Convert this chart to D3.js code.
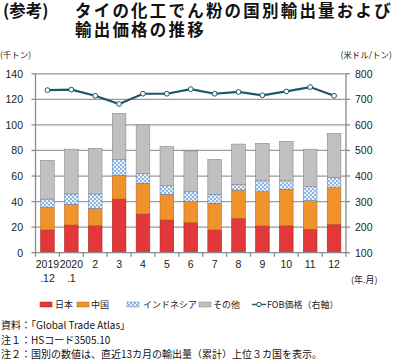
<!DOCTYPE html>
<html><head><meta charset="utf-8">
<script src="https://cdn.jsdelivr.net/npm/d3@7/dist/d3.min.js"></script>
<style>
body{margin:0;background:#fff;}
svg{display:block;font-family:"Liberation Sans","Noto Sans CJK JP",sans-serif;}
.jp{font-family:"Noto Sans CJK JP",sans-serif;}
</style></head>
<body><svg id="c" width="393" height="360"></svg>
<script>
const months = [["2019",".12"],["2020",".1"],["2"],["3"],["4"],["5"],["6"],["7"],["8"],["9"],["10"],["11"],["12"]];
const japan = [17.8, 21.7, 21.2, 42.0, 30.3, 25.6, 23.5, 17.8, 26.9, 20.9, 21.1, 18.3, 22.2];
const china = [17.7, 16.2, 13.5, 18.5, 24.0, 20.1, 16.5, 20.8, 22.1, 26.8, 28.5, 22.4, 28.7];
const indonesia = [6.5, 8.1, 11.3, 12.5, 7.7, 6.7, 7.7, 7.1, 4.5, 8.6, 6.7, 11.0, 8.1];
const others = [30.3, 35.0, 35.7, 36.0, 38.0, 30.6, 31.9, 27.3, 31.5, 29.3, 30.9, 29.3, 34.4];
const fobPrice = [736, 738, 714, 682, 722, 722, 740, 722, 729, 716, 731, 748, 714];
const leftTicks = [0, 20, 40, 60, 80, 100, 120, 140];
const rightTicks = [100, 200, 300, 400, 500, 600, 700, 800];
const seriesNames = ["日本", "中国", "インドネシア", "その他"];

const svg = d3.select("#c");
const L = 35.5, R = 346, T = 73.8, B = 252.7;
const x = d3.scaleBand().domain(d3.range(13)).range([L, R]).paddingInner(0.43).paddingOuter(0.215);
const y = d3.scaleLinear().domain([0, 140]).range([B, T]);
const y2 = d3.scaleLinear().domain([100, 800]).range([B, T]);

const defs = svg.append("defs");
const pat = defs.append("pattern").attr("id","hatch").attr("patternUnits","userSpaceOnUse").attr("width",4).attr("height",4);
pat.append("rect").attr("width",4).attr("height",4).attr("fill","#e9f1fa");
pat.append("rect").attr("x",0).attr("y",0).attr("width",2).attr("height",2).attr("fill","#8fb6e0");
pat.append("rect").attr("x",2).attr("y",2).attr("width",2).attr("height",2).attr("fill","#8fb6e0");

// gridlines
svg.append("g").selectAll("line").data(leftTicks.slice(1)).join("line")
  .attr("x1", L).attr("x2", R).attr("y1", d => y(d)).attr("y2", d => y(d))
  .attr("stroke", "#9a9a9a").attr("stroke-width", 1.2);

// stacked bars
const keys = ["japan","china","indonesia","others"];
const rows = d3.range(13).map(i => ({i, japan: japan[i], china: china[i], indonesia: indonesia[i], others: others[i]}));
const stack = d3.stack().keys(keys)(rows);
const fills = {japan:"#e2383a", china:"#f0932c", indonesia:"url(#hatch)", others:"#c0c0c0"};
const strokes = {japan:"#b02020", china:"#b8681a", indonesia:"#5f86b8", others:"#8a8a8a"};
stack.forEach(s => {
  svg.append("g").selectAll("rect").data(s).join("rect")
    .attr("x", d => x(d.data.i)).attr("width", x.bandwidth())
    .attr("y", d => y(d[1])).attr("height", d => y(d[0]) - y(d[1]))
    .attr("fill", fills[s.key]).attr("stroke", strokes[s.key]).attr("stroke-width", 0.6);
});

// axes
const ax = svg.append("g").attr("stroke", "#8a8a8a").attr("stroke-width", 1.3);
ax.append("line").attr("x1", L).attr("x2", L).attr("y1", T).attr("y2", B);
ax.append("line").attr("x1", R).attr("x2", R).attr("y1", T).attr("y2", B);
ax.append("line").attr("x1", L).attr("x2", R).attr("y1", B).attr("y2", B);
ax.selectAll(".lt").data(leftTicks).join("line").attr("x1", L - 4).attr("x2", L).attr("y1", d => y(d)).attr("y2", d => y(d));
ax.selectAll(".rt").data(rightTicks).join("line").attr("x1", R).attr("x2", R + 4).attr("y1", d => y2(d)).attr("y2", d => y2(d));
ax.selectAll(".bt").data(d3.range(14)).join("line")
  .attr("x1", d => L + d * x.step()).attr("x2", d => L + d * x.step()).attr("y1", B).attr("y2", B + 4);

svg.append("g").selectAll("text").data(leftTicks).join("text")
  .attr("x", 23).attr("y", d => y(d) + 4).attr("text-anchor", "end")
  .attr("font-size", 10.5).attr("fill", "#222").text(d => d);
svg.append("g").selectAll("text").data(rightTicks).join("text")
  .attr("x", 355).attr("y", d => y2(d) + 4).attr("text-anchor", "start")
  .attr("font-size", 10.5).attr("fill", "#222").text(d => d);

// x labels
const xl = svg.append("g").selectAll("text").data(months).join("text")
  .attr("x", (d, i) => x(i) + x.bandwidth() / 2).attr("y", 268).attr("text-anchor", "middle")
  .attr("font-size", 10.5).attr("fill", "#222");
xl.each(function(d) {
  const t = d3.select(this);
  d.forEach((s, k) => t.append("tspan").attr("x", t.attr("x")).attr("dy", k === 0 ? 0 : 14).text(s));
});
svg.append("text").attr("class","jp").attr("x", 351).attr("y", 283).attr("font-size", 9).attr("fill", "#222").text("(年.月)");

// price line
const line = d3.line().x((d, i) => x(i) + x.bandwidth() / 2).y(d => y2(d));
svg.append("path").datum(fobPrice).attr("d", line).attr("fill", "none").attr("stroke", "#1d5868").attr("stroke-width", 2.2);
svg.append("g").selectAll("circle").data(fobPrice).join("circle")
  .attr("cx", (d, i) => x(i) + x.bandwidth() / 2).attr("cy", d => y2(d)).attr("r", 2.4)
  .attr("fill", "#fff").attr("stroke", "#1d5868").attr("stroke-width", 1);

// titles
const tt = svg.append("g").attr("class","jp").attr("font-weight","bold").attr("fill","#111").attr("font-size", 16.5);
tt.append("text").attr("x", 3).attr("y", 17).text("(参考)");
tt.append("text").attr("x", 75).attr("y", 17).attr("letter-spacing", 2.2).text("タイの化工でん粉の国別輸出量および");
tt.append("text").attr("x", 75).attr("y", 36).attr("letter-spacing", 2.2).text("輸出価格の推移");
svg.append("text").attr("class","jp").attr("x", 0).attr("y", 58).attr("font-size", 8.5).attr("fill","#222").text("(千トン)");
svg.append("text").attr("class","jp").attr("x", 392).attr("y", 58).attr("text-anchor","end").attr("font-size", 8.5).attr("fill","#222").text("(米ドル/トン)");

// legend
const lg = svg.append("g").attr("class","jp").attr("font-size", 9).attr("fill","#222");
const legendItems = [
  {key:"japan", x:40, tx:55},
  {key:"china", x:77, tx:91},
  {key:"indonesia", x:127, tx:143},
  {key:"others", x:199, tx:213}
];
legendItems.forEach((it, k) => {
  lg.append("rect").attr("x", it.x).attr("y", 302).attr("width", 12).attr("height", 5)
    .attr("fill", fills[it.key]).attr("stroke", strokes[it.key]).attr("stroke-width", 0.5);
  lg.append("text").attr("x", it.tx).attr("y", 308).text(seriesNames[k]);
});
lg.append("line").attr("x1", 252).attr("x2", 266).attr("y1", 304.5).attr("y2", 304.5).attr("stroke", "#1d5868").attr("stroke-width", 1.5);
lg.append("circle").attr("cx", 259).attr("cy", 304.5).attr("r", 2.2).attr("fill", "#fff").attr("stroke", "#1d5868");
lg.append("text").attr("x", 267).attr("y", 308).text("FOB価格（右軸）");

// notes
const nt = svg.append("g").attr("class","jp").attr("font-size", 10).attr("fill","#111");
nt.append("text").attr("x", 1).attr("y", 329).text("資料：「Global Trade Atlas」");
nt.append("text").attr("x", 1).attr("y", 344).text("注１：HSコード3505.10");
nt.append("text").attr("x", 1).attr("y", 358).text("注２：国別の数値は、直近13カ月の輸出量（累計）上位３カ国を表示。");
</script></body></html>
